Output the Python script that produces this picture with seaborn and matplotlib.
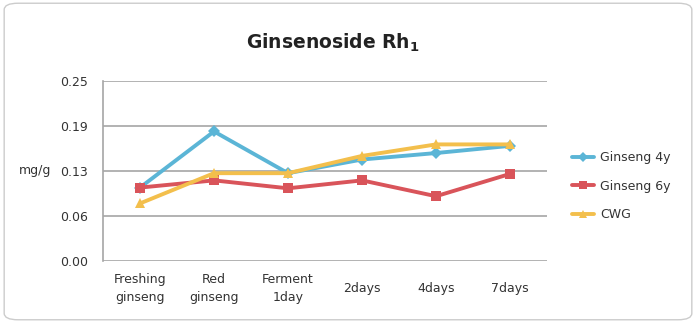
import matplotlib
matplotlib.use("Agg")
import matplotlib.pyplot as plt
import seaborn as sns
import pandas as pd
from matplotlib.patches import FancyBboxPatch
from matplotlib.lines import Line2D

categories = ["Freshing\nginseng", "Red\nginseng", "Ferment\n1day", "2days", "4days", "7days"]
ginseng_4y = [0.102, 0.180, 0.122, 0.141, 0.150, 0.160]
ginseng_6y = [0.102, 0.112, 0.101, 0.112, 0.090, 0.121]
cwg = [0.080, 0.122, 0.122, 0.146, 0.162, 0.162]
series_names = ["Ginseng 4y", "Ginseng 6y", "CWG"]
ytick_values = [0.0, 0.0625, 0.125, 0.1875, 0.25]
ytick_labels = ["0.00", "0.06", "0.13", "0.19", "0.25"]

colors = ["#5BB5D6", "#D9545A", "#F3BF4C"]
markers = ["D", "s", "^"]

rows = []
for name, vals in zip(series_names, [ginseng_4y, ginseng_6y, cwg]):
    for c, v in zip(categories, vals):
        rows.append({"cat": c, "val": v, "series": name})
df = pd.DataFrame(rows)

sns.set_theme(style="white")
plt.rcParams["font.family"] = ["DejaVu Sans"]

fig = plt.figure(figsize=(6.96, 3.23), dpi=100)
ax = fig.add_axes([0.148, 0.192, 0.638, 0.557])

sns.lineplot(data=df, x="cat", y="val", hue="series", style="series",
             hue_order=series_names, style_order=series_names,
             palette=colors, markers=markers, dashes=False,
             linewidth=2.8, markersize=6.5, markeredgewidth=0,
             sort=False, ax=ax, legend=False)

ax.set_xlim(-0.5, len(categories) - 0.5)
ax.set_ylim(0, 0.25)
ax.set_yticks(ytick_values)
ax.set_yticklabels(ytick_labels)
ax.set_xticks(range(len(categories)))
ax.set_xticklabels(categories, linespacing=1.5)
for lab in ax.get_xticklabels():
    lab.set_verticalalignment("center")
ax.tick_params(axis="x", length=0, pad=20, labelsize=9, labelcolor="#333333")
ax.tick_params(axis="y", length=0, pad=11, labelsize=9, labelcolor="#333333")
ax.set_xlabel("")
ax.set_ylabel("")
for y in ytick_values:
    ax.axhline(y, color="#A6A6A6", linewidth=1.2, zorder=0)
for s in ["top", "right", "bottom"]:
    ax.spines[s].set_visible(False)
ax.spines["left"].set_color("#A6A6A6")
ax.spines["left"].set_linewidth(1.2)

fig.text(0.05, 0.472, "mg/g", fontsize=9, color="#333333", ha="center", va="center")
fig.text(0.478, 0.868, r"Ginsenoside Rh$_{\mathregular{1}}$", fontsize=13.5, fontweight="bold",
         color="#222222", ha="center", va="center")

handles = [Line2D([0], [0], color=c, marker=m, linewidth=2.8, markersize=5.5,
                  markeredgewidth=0) for c, m in zip(colors, markers)]
fig.legend(handles, series_names, loc="center left", bbox_to_anchor=(0.805, 0.424),
           frameon=False, fontsize=9, handlelength=1.8, labelspacing=1.25,
           handletextpad=0.5, labelcolor="#333333")

border = FancyBboxPatch((0.006, 0.01), 0.988, 0.98, boxstyle="round,pad=0,rounding_size=0.02",
                        transform=fig.transFigure, facecolor="none",
                        edgecolor="#CCCCCC", linewidth=1.0)
fig.patches.append(border)

fig.savefig("out.png", dpi=100)
